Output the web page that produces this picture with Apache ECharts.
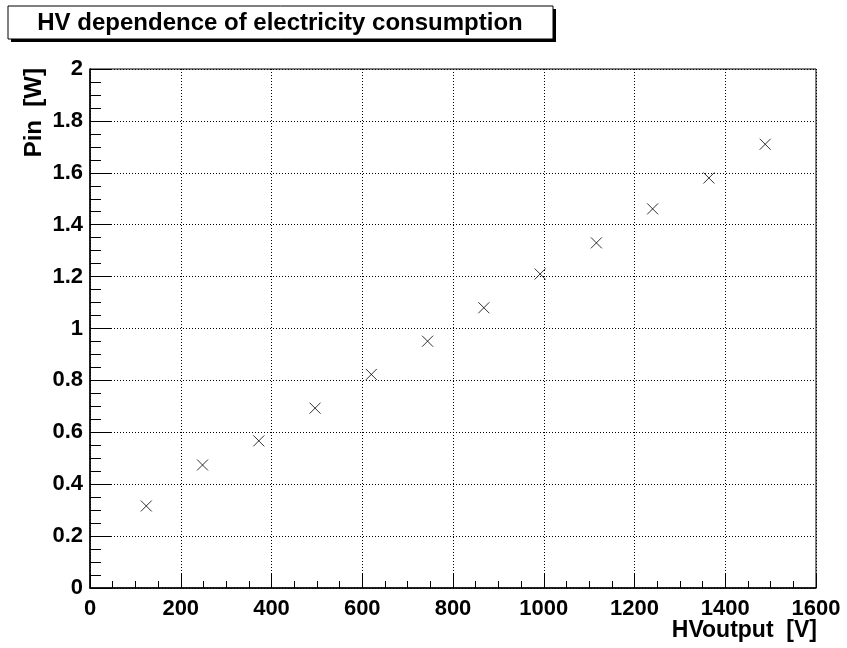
<!DOCTYPE html>
<html>
<head>
<meta charset="utf-8">
<script src="https://cdn.jsdelivr.net/npm/echarts@6/dist/echarts.min.js"></script>
<style>
  html, body { margin: 0; padding: 0; background: #fff; }
  #chart { width: 847px; height: 648px; }
</style>
</head>
<body>
<div id="chart"></div>
<script>
const titleText = 'HV dependence of electricity consumption';
const xTitle = 'HVoutput  [V]';
const yTitle = 'Pin  [W]';
const hvOutput = [124, 248, 372, 496, 620, 744, 868, 992, 1116, 1240, 1364, 1488];
const pin = [0.316, 0.474, 0.567, 0.693, 0.823, 0.951, 1.080, 1.210, 1.330, 1.461, 1.580, 1.710];

const FONT = '"Liberation Sans", Arial, Helvetica, sans-serif';
const chart = echarts.init(document.getElementById('chart'), null, { renderer: 'canvas' });

const points = hvOutput.map((x, i) => [x, pin[i]]);

chart.setOption({
  animation: false,
  backgroundColor: '#ffffff',
  grid: {
    left: 90, top: 69, width: 726, height: 519,
    show: true, borderColor: '#000', borderWidth: 1, backgroundColor: 'transparent'
  },
  xAxis: {
    type: 'value', min: 0, max: 1600, interval: 200,
    axisLine: { show: true, onZero: false, lineStyle: { color: '#000', width: 1.5 } },
    axisTick: { show: true, inside: true, length: 14, lineStyle: { color: '#000', width: 1 } },
    minorTick: { show: true, splitNumber: 4, length: 7, lineStyle: { color: '#000', width: 1 } },
    splitLine: { show: true, lineStyle: { color: '#000', width: 1, type: [1, 2] } },
    axisLabel: { color: '#000', fontFamily: FONT, fontWeight: 'bold', fontSize: 22, margin: 10,
      formatter: v => String(v) }
  },
  yAxis: {
    type: 'value', min: 0, max: 2, interval: 0.2,
    axisLine: { show: true, onZero: false, lineStyle: { color: '#000', width: 1.5 } },
    axisTick: { show: true, inside: true, length: 22, lineStyle: { color: '#000', width: 1 } },
    minorTick: { show: true, splitNumber: 4, length: 11, lineStyle: { color: '#000', width: 1 } },
    splitLine: { show: true, lineStyle: { color: '#000', width: 1, type: [1, 2] } },
    axisLabel: { color: '#000', fontFamily: FONT, fontWeight: 'bold', fontSize: 22, margin: 7,
      formatter: v => String(Math.round(v * 10) / 10) }
  },
  series: [{
    type: 'scatter',
    data: points,
    symbol: 'path://M0,0L10,10M10,0L0,10',
    symbolSize: 11,
    itemStyle: { color: 'rgba(0,0,0,0)', borderColor: '#000', borderWidth: 1 },
    z: 5
  }],
  graphic: [
    { type: 'rect', shape: { x: 11, y: 9, width: 545, height: 33 }, style: { fill: '#000' }, z: 10 },
    { type: 'rect', shape: { x: 8, y: 6, width: 545, height: 33 }, style: { fill: '#fff', stroke: '#000', lineWidth: 1 }, z: 11 },
    { type: 'text', x: 280, y: 23, z: 12,
      style: { text: titleText, font: 'bold 24px ' + FONT, fill: '#000', textAlign: 'center', textVerticalAlign: 'middle' } },
    { type: 'text', x: 817, y: 631, z: 12,
      style: { text: xTitle, font: 'bold 23px ' + FONT, fill: '#000', textAlign: 'right', textVerticalAlign: 'middle' } },
    { type: 'text', x: 34, y: 68, rotation: Math.PI / 2, z: 12,
      style: { text: yTitle, font: 'bold 24px ' + FONT, fill: '#000', textAlign: 'right', textVerticalAlign: 'middle' } }
  ]
});
</script>
</body>
</html>
